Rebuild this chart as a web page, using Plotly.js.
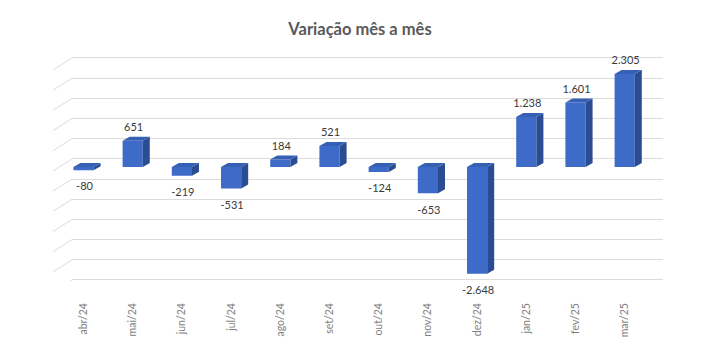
<!DOCTYPE html>
<html>
<head>
<meta charset="utf-8">
<script src="https://cdn.plot.ly/plotly-3.0.1.min.js"></script>
<style>html,body{margin:0;padding:0;background:#fff;}#chart{width:715px;height:355px;}</style>
</head>
<body>
<div id="chart"></div>
<script>
const categories = ["abr/24","mai/24","jun/24","jul/24","ago/24","set/24","out/24","nov/24","dez/24","jan/25","fev/25","mar/25"];
const values = [-80, 651, -219, -531, 184, 521, -124, -653, -2648, 1238, 1601, 2305];
const gridValues = [-3000,-2500,-2000,-1500,-1000,-500,0,500,1000,1500,2000,2500];

const W = 715, H = 355;
const pxPerUnit = 0.0403;      // vertical scale
const pxPerCat = 49.2;         // horizontal spacing
const barW = 0.41;
const depthX = 7 / pxPerCat;   // 3D depth in category units
const depthY = 4 / pxPerUnit;  // 3D depth in value units
const zeroPx = 167;            // pixel row of the bars' base
const y2min = -3500, y2max = 3000;
const gridColor = "#dcdcdc";

function fmt(v){
  const s = Math.abs(v).toString().replace(/\B(?=(\d{3})+(?!\d))/g, ".");
  return (v < 0 ? "-" : "") + s;
}

const idx = categories.map((c,i)=>i);
const fontFam = "Lato, 'Open Sans', sans-serif";

const bars = {
  type: "bar", x: idx, y: values, width: barW,
  xaxis: "x2", yaxis: "y2",
  marker: {color: "#3d6bc7", line: {width: 0}},
  hoverinfo: "skip"
};
const labels = {
  type: "scatter", mode: "text", x: idx.map(i=>i+0.02),
  y: values.map(v => v >= 0 ? v + 12.5/pxPerUnit : v - 17.5/pxPerUnit),
  text: values.map(fmt),
  textfont: {family: fontFam, size: 11, color: "#3a3a3a"},
  textposition: "middle center",
  xaxis: "x2", yaxis: "y2", hoverinfo: "skip", cliponaxis: false
};
const backDummy = {type:"scatter", x:[0], y:[0], mode:"markers", marker:{opacity:0}, xaxis:"x", yaxis:"y", hoverinfo:"skip"};

// back wall scale
const bTopPx = 58, bBotPx = 280, bMin = -3000, bMax = 2500;
const bK = (bBotPx - bTopPx) / (bMax - bMin);
const eps = 30;

const shapes = [];
gridValues.forEach(g => {
  shapes.push({type:"line", xref:"paper", yref:"y", x0:72/W, y0:g, x1:53/W, y1:g - 12/bK,
    line:{color:gridColor, width:1}, layer:"below"});
});
values.forEach((v,i) => {
  const xl = i - barW/2, xr = i + barW/2;
  const top = Math.max(v,0), bot = Math.min(v,0);
  shapes.push({type:"path", xref:"x2", yref:"y2",
    path:`M${xr},${bot} L${xr+depthX},${bot+depthY} L${xr+depthX},${top+depthY} L${xr},${top} Z`,
    fillcolor:"#2a4c93", line:{width:0}});
  shapes.push({type:"path", xref:"x2", yref:"y2",
    path:`M${xl},${top} L${xl+depthX},${top+depthY} L${xr+depthX},${top+depthY} L${xr},${top} Z`,
    fillcolor:"#3560b4", line:{width:0}});
});

const y2top = zeroPx - y2max*pxPerUnit, y2bot = zeroPx - y2min*pxPerUnit;
const x2l = 83.5 - 0.5*pxPerCat, x2r = 83.5 + 11.5*pxPerCat;

const layout = {
  width: W, height: H,
  margin: {l:0, r:0, t:0, b:0},
  paper_bgcolor: "#ffffff", plot_bgcolor: "rgba(0,0,0,0)",
  showlegend: false,
  title: {text: "Variação mês a mês", x: 360/W, xanchor: "center", y: (H-29)/H, yanchor: "middle",
    font: {family: fontFam, size: 16.5, color: "#595959", weight: "bold"}},
  xaxis: {domain: [72/W, 663/W], range:[0,1], showgrid:false, zeroline:false, showticklabels:false, showline:false, anchor:"y"},
  yaxis: {domain: [(H-(bBotPx+eps*bK))/H, (H-(bTopPx-eps*bK))/H], range:[bMin-eps, bMax+eps], dtick:500, tick0:0, anchor:"x",
    showgrid:true, gridcolor:gridColor, gridwidth:1, zeroline:false, showticklabels:false, showline:false},
  xaxis2: {anchor:"free", position: (H-288)/H, domain:[x2l/W, x2r/W], range:[-0.5,11.5],
    tickmode:"array", tickvals: idx, ticktext: categories, tickangle:-90,
    ticks:"", ticklabelstandoff: 12,
    tickfont:{family:fontFam, size:10.5, color:"#7f7f7f"},
    showgrid:false, zeroline:false, showline:false},
  yaxis2: {anchor:"x2", domain:[(H-y2bot)/H, (H-y2top)/H], range:[y2min,y2max],
    showgrid:false, zeroline:false, showticklabels:false, showline:false},
  shapes: shapes
};

Plotly.newPlot("chart", [backDummy, bars, labels], layout, {displayModeBar:false, staticPlot:true});
</script>
</body>
</html>
